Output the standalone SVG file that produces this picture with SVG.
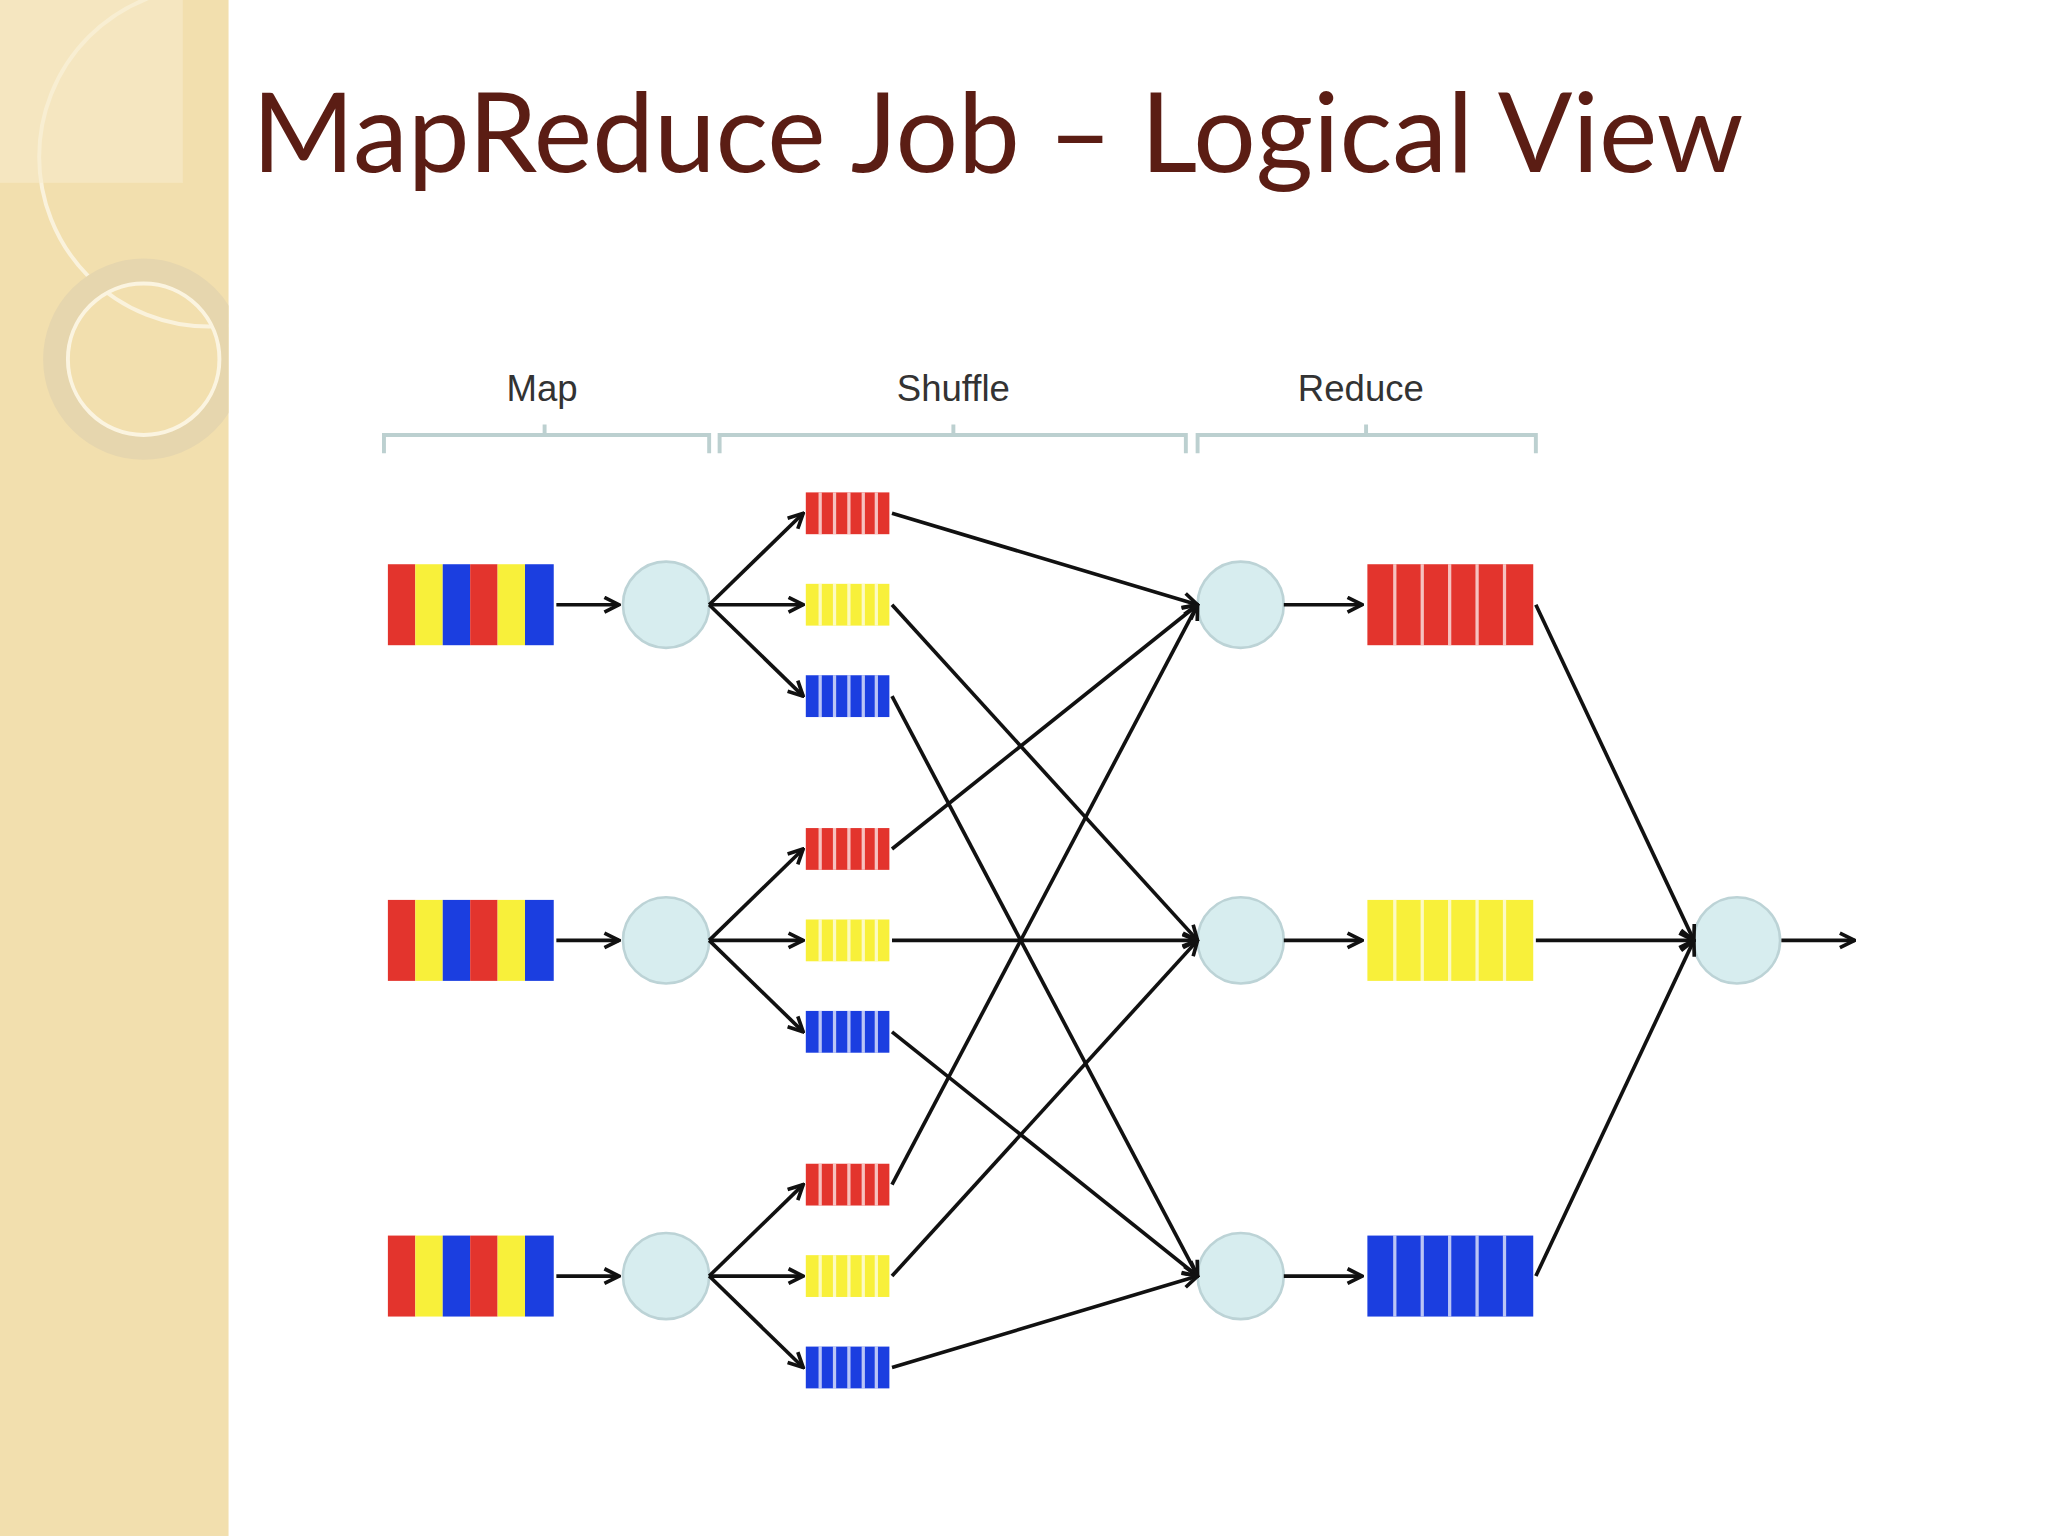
<svg xmlns="http://www.w3.org/2000/svg" width="2048" height="1536" viewBox="0 0 2048 1536">
<defs>
<marker id="ah" viewBox="0 0 10 10" refX="9" refY="5" markerWidth="5" markerHeight="5" orient="auto" markerUnits="strokeWidth"><path d="M1,1 L9,5 L1,9" fill="none" stroke="#111" stroke-width="2"/></marker>
<clipPath id="lp"><rect x="0" y="0" width="175" height="1176"/></clipPath>
</defs>
<style>
.c{fill:#d7edef;stroke:#bcd3d6;stroke-width:2}
.r{fill:#e3342d}.y{fill:#f8f03a}.b{fill:#1b3ee0}
.e{stroke:#111;stroke-width:2.8;fill:none;marker-end:url(#ah)}
.br{stroke:#bcd0d0;stroke-width:3;fill:none}
.lab{font-family:"Liberation Sans",Arial,sans-serif;font-size:28px;fill:#333;text-anchor:middle}
</style>
<rect width="2048" height="1536" fill="#ffffff"/>
<g transform="scale(1.306 1.3061)">
<g id="sidebar">
<rect x="0" y="0" width="175" height="1176" fill="#f2dfae"/>
<g clip-path="url(#lp)" fill="none">
<circle cx="160" cy="120" r="130" stroke="#faf2dc" stroke-width="3"/>
<circle cx="110" cy="275" r="68" stroke="#e6d6ae" stroke-width="18"/>
<circle cx="110" cy="275" r="58" stroke="#fbf4e0" stroke-width="3"/>
<rect x="0" y="0" width="140" height="140" fill="#f7ebcb" opacity="0.6"/>
</g>
</g>
<text id="title" x="193" y="132" font-family="Lato, 'Open Sans', sans-serif" font-size="84" fill="#5b1d14" textLength="1142" lengthAdjust="spacingAndGlyphs">MapReduce Job – Logical View</text>
<g id="brackets">
<path class="br" d="M294,347 V333 H543 V347 M417,333 V325"/>
<path class="br" d="M551,347 V333 H908 V347 M730,333 V325"/>
<path class="br" d="M917,347 V333 H1176 V347 M1046,333 V325"/>
<text class="lab" x="415" y="307">Map</text>
<text class="lab" x="730" y="307">Shuffle</text>
<text class="lab" x="1042" y="307">Reduce</text>
</g>
<g id="inputs">
<g id="in1" transform="translate(297,432)"><rect class="r" x="0" width="21" height="62"/><rect class="y" x="21" width="21" height="62"/><rect class="b" x="42" width="21" height="62"/><rect class="r" x="63" width="21" height="62"/><rect class="y" x="84" width="21" height="62"/><rect class="b" x="105" width="22" height="62"/></g>
<g id="in2" transform="translate(297,689)"><rect class="r" x="0" width="21" height="62"/><rect class="y" x="21" width="21" height="62"/><rect class="b" x="42" width="21" height="62"/><rect class="r" x="63" width="21" height="62"/><rect class="y" x="84" width="21" height="62"/><rect class="b" x="105" width="22" height="62"/></g>
<g id="in3" transform="translate(297,946)"><rect class="r" x="0" width="21" height="62"/><rect class="y" x="21" width="21" height="62"/><rect class="b" x="42" width="21" height="62"/><rect class="r" x="63" width="21" height="62"/><rect class="y" x="84" width="21" height="62"/><rect class="b" x="105" width="22" height="62"/></g>
</g>
<g id="mappers">
<circle id="m1" class="c" cx="510" cy="463" r="33"/>
<circle id="m2" class="c" cx="510" cy="720" r="33"/>
<circle id="m3" class="c" cx="510" cy="977" r="33"/>
</g>
<g id="partitions">
<rect class="r" x="617" y="377" width="64" height="32"/><rect class="y" x="617" y="447" width="64" height="32"/><rect class="b" x="617" y="517" width="64" height="32"/>
<rect class="r" x="617" y="634" width="64" height="32"/><rect class="y" x="617" y="704" width="64" height="32"/><rect class="b" x="617" y="774" width="64" height="32"/>
<rect class="r" x="617" y="891" width="64" height="32"/><rect class="y" x="617" y="961" width="64" height="32"/><rect class="b" x="617" y="1031" width="64" height="32"/>
<path d="M628,377v32M639,377v32M650,377v32M661,377v32M671,377v32 M628,447v32M639,447v32M650,447v32M661,447v32M671,447v32 M628,517v32M639,517v32M650,517v32M661,517v32M671,517v32 M628,634v32M639,634v32M650,634v32M661,634v32M671,634v32 M628,704v32M639,704v32M650,704v32M661,704v32M671,704v32 M628,774v32M639,774v32M650,774v32M661,774v32M671,774v32 M628,891v32M639,891v32M650,891v32M661,891v32M671,891v32 M628,961v32M639,961v32M650,961v32M661,961v32M671,961v32 M628,1031v32M639,1031v32M650,1031v32M661,1031v32M671,1031v32" stroke="#ffffff" stroke-width="2.5" opacity="0.7"/>
</g>
<g id="reducers">
<circle id="r1" class="c" cx="950" cy="463" r="33"/>
<circle id="r2" class="c" cx="950" cy="720" r="33"/>
<circle id="r3" class="c" cx="950" cy="977" r="33"/>
</g>
<g id="outputs">
<rect class="r" x="1047" y="432" width="127" height="62"/>
<rect class="y" x="1047" y="689" width="127" height="62"/>
<rect class="b" x="1047" y="946" width="127" height="62"/>
<path d="M1068,432v62M1089,432v62M1110,432v62M1131,432v62M1152,432v62 M1068,689v62M1089,689v62M1110,689v62M1131,689v62M1152,689v62 M1068,946v62M1089,946v62M1110,946v62M1131,946v62M1152,946v62" stroke="#ffffff" stroke-width="2.5" opacity="0.7"/>
</g>
<circle id="final" class="c" cx="1330" cy="720" r="33"/>
<g id="connectors">
<line class="e" x1="426" y1="463" x2="474" y2="463"/>
<line class="e" x1="426" y1="720" x2="474" y2="720"/>
<line class="e" x1="426" y1="977" x2="474" y2="977"/>
<line class="e" x1="543" y1="463" x2="615" y2="393"/><line class="e" x1="543" y1="463" x2="615" y2="463"/><line class="e" x1="543" y1="463" x2="615" y2="533"/>
<line class="e" x1="543" y1="720" x2="615" y2="650"/><line class="e" x1="543" y1="720" x2="615" y2="720"/><line class="e" x1="543" y1="720" x2="615" y2="790"/>
<line class="e" x1="543" y1="977" x2="615" y2="907"/><line class="e" x1="543" y1="977" x2="615" y2="977"/><line class="e" x1="543" y1="977" x2="615" y2="1047"/>
<line class="e" x1="683" y1="393" x2="917" y2="463"/><line class="e" x1="683" y1="463" x2="917" y2="720"/><line class="e" x1="683" y1="533" x2="917" y2="977"/>
<line class="e" x1="683" y1="650" x2="917" y2="463"/><line class="e" x1="683" y1="720" x2="917" y2="720"/><line class="e" x1="683" y1="790" x2="917" y2="977"/>
<line class="e" x1="683" y1="907" x2="917" y2="463"/><line class="e" x1="683" y1="977" x2="917" y2="720"/><line class="e" x1="683" y1="1047" x2="917" y2="977"/>
<line class="e" x1="983" y1="463" x2="1043" y2="463"/>
<line class="e" x1="983" y1="720" x2="1043" y2="720"/>
<line class="e" x1="983" y1="977" x2="1043" y2="977"/>
<line class="e" x1="1176" y1="463" x2="1297" y2="720"/>
<line class="e" x1="1176" y1="720" x2="1297" y2="720"/>
<line class="e" x1="1176" y1="977" x2="1297" y2="720"/>
<line class="e" x1="1364" y1="720" x2="1420" y2="720"/>
</g>
</g>
</svg>
